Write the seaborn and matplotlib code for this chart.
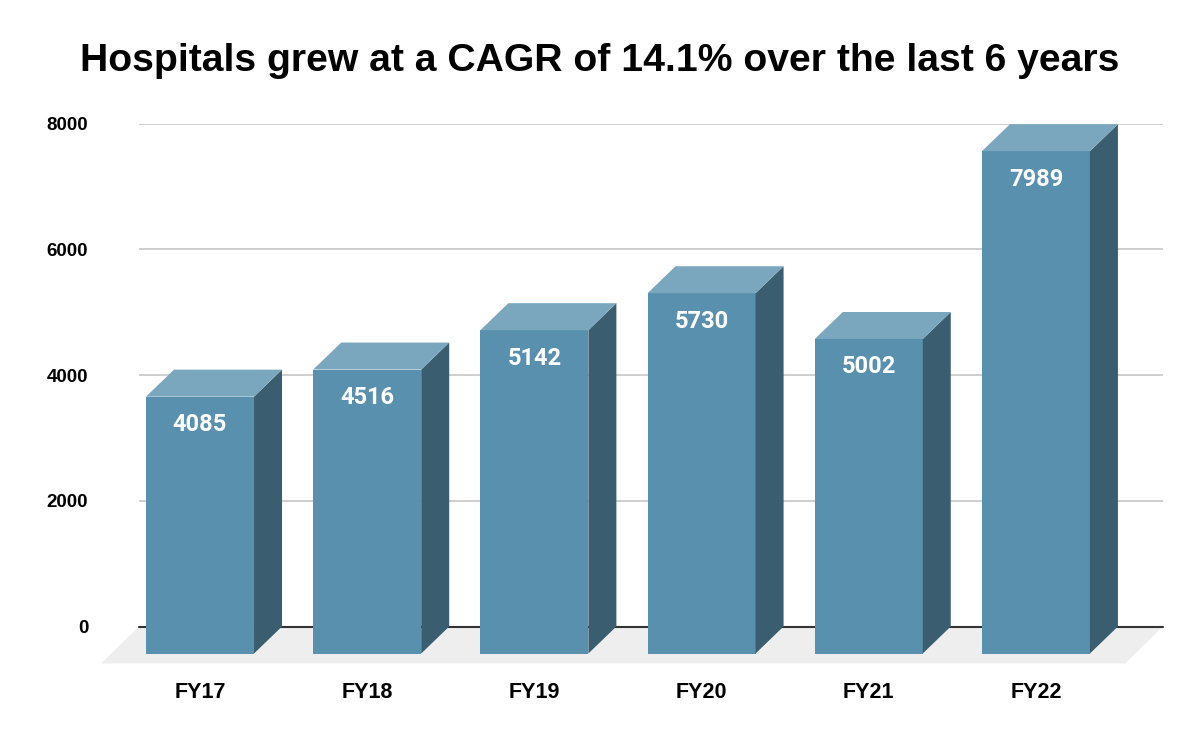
import matplotlib
matplotlib.use("Agg")
import matplotlib.pyplot as plt
from matplotlib.patches import Polygon
import seaborn as sns
import numpy as np

years = ["FY17", "FY18", "FY19", "FY20", "FY21", "FY22"]
hospitals = [4085, 4516, 5142, 5730, 5002, 7989]
yticks = [0, 2000, 4000, 6000, 8000]
title = "Hospitals grew at a CAGR of 14.1% over the last 6 years"

front_col = "#5990ae"
top_col = "#7aa7be"
side_col = "#3a5e6f"
floor_col = "#eeeeee"

sns.set_style("white")
plt.rcParams['font.family'] = ['Liberation Sans', 'DejaVu Sans']
plt.rcParams['text.color'] = 'black'
plt.rcParams['xtick.color'] = 'black'
plt.rcParams['ytick.color'] = 'black'

fig = plt.figure(figsize=(12, 7.42), dpi=100)
# axes box = back plane of the 3d chart, in pixels of the 1200x742 image
ax = fig.add_axes([139 / 1200, (742 - 626.5) / 742, 1024 / 1200, 503 / 742])

xlim = (-0.365, 5.76)
ylim = (0, 8000)
ax.set_xlim(*xlim)
ax.set_ylim(*ylim)

px_x = 1024 / (xlim[1] - xlim[0])      # pixels per category
px_y = 503 / (ylim[1] - ylim[0])       # pixels per unit
dx = 28 / px_x                         # bar depth
dy = 27 / px_y
fdx = 38 / px_x                        # floor depth
fdy = 37 / px_y

# floor
floor = Polygon([(xlim[0], 0), (xlim[1], 0), (xlim[1] - fdx, -fdy), (xlim[0] - fdx, -fdy)],
                closed=True, facecolor=floor_col, edgecolor="none", clip_on=False, zorder=1)
ax.add_patch(floor)

for t in yticks[1:]:
    ax.axhline(t, color="#cccccc", lw=1.3, zorder=0)
ax.axhline(0, color="#333333", lw=1.5, zorder=1.5, clip_on=False)

sns.barplot(x=years, y=hospitals, color=front_col, saturation=1, width=0.646,
            linewidth=0, ax=ax, zorder=3)

for i, p in enumerate(ax.patches[1:] if isinstance(ax.patches[0], Polygon) else ax.patches):
    v = hospitals[i]
    p.set_y(-dy)
    p.set_clip_on(False)
    x0 = p.get_x()
    x1 = x0 + p.get_width()
    side = Polygon([(x1, -dy), (x1 + dx, 0), (x1 + dx, v), (x1, v - dy)], closed=True,
                   facecolor=side_col, edgecolor="none", clip_on=False, zorder=3)
    top = Polygon([(x0, v - dy), (x1, v - dy), (x1 + dx, v), (x0 + dx, v)], closed=True,
                  facecolor=top_col, edgecolor="none", clip_on=False, zorder=3)
    ax.add_patch(side)
    ax.add_patch(top)
    ax.text(x0 + p.get_width() / 2, v - dy - 28 / px_y, str(v), ha="center", va="center",
            color="white", fontsize=17, fontweight="bold", family=["Roboto", "DejaVu Sans"],
            zorder=4)

ax.set_xlim(*xlim)
ax.set_ylim(*ylim)
ax.set_yticks(yticks)
ax.set_yticklabels([str(t) for t in yticks], fontsize=13.5, fontweight="bold")
ax.set_xticks(range(len(years)))
ax.set_xticklabels(years, fontsize=15.5, fontweight="bold")
ax.tick_params(axis="y", length=0, pad=36.5)
ax.tick_params(axis="x", length=0, pad=40)
ax.set_xlabel("")
ax.set_ylabel("")
sns.despine(ax=ax, left=True, bottom=True)

fig.text(0.5, 1 - 61 / 742, title, ha="center", va="center", fontsize=28.2, fontweight="bold")

fig.savefig("out.png", dpi=100)
